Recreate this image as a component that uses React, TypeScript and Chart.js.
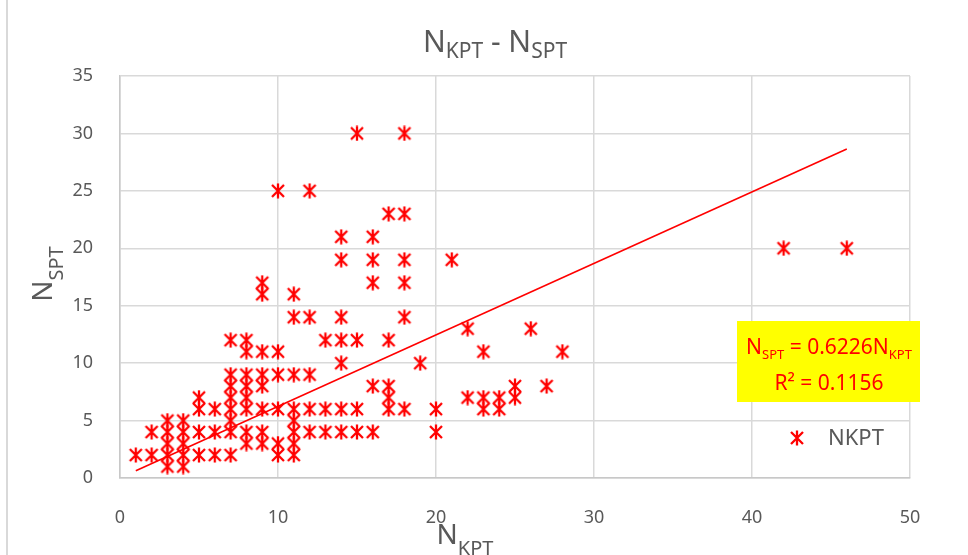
import React, { useEffect, useRef } from 'react';
import { Chart, registerables } from 'chart.js';

Chart.register(...registerables);

// ---- data (N_KPT, N_SPT pairs) ----
const kptValues: number[] = [
  1,
  2, 2,
  3, 3, 3, 3, 3,
  4, 4, 4, 4, 4,
  5, 5, 5, 5,
  6, 6, 6,
  7, 7, 7, 7, 7, 7, 7, 7,
  8, 8, 8, 8, 8, 8, 8, 8,
  9, 9, 9, 9, 9, 9, 9, 9,
  10, 10, 10, 10, 10, 10,
  11, 11, 11, 11, 11, 11, 11, 11,
  12, 12, 12, 12, 12,
  13, 13, 13,
  14, 14, 14, 14, 14, 14, 14,
  15, 15, 15, 15,
  16, 16, 16, 16, 16,
  17, 17, 17, 17, 17,
  18, 18, 18, 18, 18, 18,
  19,
  20, 20,
  21,
  22, 22,
  23, 23, 23,
  24, 24,
  25, 25,
  26,
  27,
  28,
  42,
  46,
];
const sptValues: number[] = [
  2,
  2, 4,
  1, 2, 3, 4, 5,
  1, 2, 3, 4, 5,
  2, 4, 6, 7,
  2, 4, 6,
  2, 4, 5, 6, 7, 8, 9, 12,
  3, 4, 6, 7, 8, 9, 11, 12,
  3, 4, 6, 8, 9, 11, 16, 17,
  2, 3, 6, 9, 11, 25,
  2, 3, 4, 5, 6, 9, 14, 16,
  4, 6, 9, 14, 25,
  4, 6, 12,
  4, 6, 10, 12, 14, 19, 21,
  4, 6, 12, 30,
  4, 8, 17, 19, 21,
  6, 7, 8, 12, 23,
  6, 14, 17, 19, 23, 30,
  10,
  4, 6,
  19,
  7, 13,
  6, 7, 11,
  6, 7,
  7, 8,
  13,
  8,
  11,
  20,
  20,
];
const trendSlope = 0.6226;
const rSquared = '0.1156';
const trendRangeX: number[] = [1, 46];
const seriesName = 'NKPT';

const FONT = '"Noto Sans", sans-serif';
const GRAY = '#595959';
const RED = '#ff0000';
const GRID = '#d9d9d9';

type Part = { t: string; size: number; dy?: number };

function drawRich(
  ctx: CanvasRenderingContext2D,
  parts: Part[],
  px: number,
  py: number,
  color: string,
  angle = 0,
) {
  ctx.save();
  let total = 0;
  const widths = parts.map((p) => {
    ctx.font = `${p.size}px ${FONT}`;
    const w = ctx.measureText(p.t).width;
    total += w;
    return w;
  });
  ctx.translate(px, py);
  ctx.rotate(angle);
  ctx.fillStyle = color;
  ctx.textBaseline = 'alphabetic';
  ctx.textAlign = 'left';
  let x = -total / 2;
  parts.forEach((p, i) => {
    ctx.font = `${p.size}px ${FONT}`;
    ctx.fillText(p.t, x, p.dy || 0);
    x += widths[i];
  });
  ctx.restore();
}

function makeMarker(): HTMLCanvasElement {
  const c = document.createElement('canvas');
  c.width = 16;
  c.height = 16;
  const ctx = c.getContext('2d')!;
  ctx.strokeStyle = RED;
  ctx.lineWidth = 2.3;
  ctx.beginPath();
  ctx.moveTo(2, 2);
  ctx.lineTo(14, 14);
  ctx.moveTo(14, 2);
  ctx.lineTo(2, 14);
  ctx.moveTo(8, 0.5);
  ctx.lineTo(8, 15.5);
  ctx.stroke();
  return c;
}

export default function App() {
  const ref = useRef<HTMLCanvasElement>(null);

  useEffect(() => {
    if (!ref.current) return;
    const marker = makeMarker();
    const points = kptValues.map((x, i) => ({ x, y: sptValues[i] }));
    const trend = trendRangeX.map((x) => ({ x, y: trendSlope * x }));

    const overlay = {
      id: 'overlay',
      afterDraw(chart: any) {
        const ctx: CanvasRenderingContext2D = chart.ctx;
        // outer border (left)
        ctx.save();
        ctx.strokeStyle = GRID;
        ctx.lineWidth = 2;
        ctx.beginPath();
        ctx.moveTo(7, 0);
        ctx.lineTo(7, 555);
        ctx.stroke();
        ctx.restore();

        // title
        drawRich(
          ctx,
          [
            { t: 'N', size: 30 },
            { t: 'KPT', size: 21, dy: 6 },
            { t: ' - ', size: 30 },
            { t: 'N', size: 30 },
            { t: 'SPT', size: 21, dy: 6 },
          ],
          495,
          52,
          GRAY,
        );
        // x axis title
        drawRich(
          ctx,
          [
            { t: 'N', size: 28 },
            { t: 'KPT', size: 20, dy: 11 },
          ],
          465,
          544,
          GRAY,
        );
        // y axis title
        drawRich(
          ctx,
          [
            { t: 'N', size: 28 },
            { t: 'SPT', size: 20, dy: 11 },
          ],
          52,
          274,
          GRAY,
          -Math.PI / 2,
        );

        // equation box
        ctx.save();
        ctx.fillStyle = '#ffff00';
        ctx.fillRect(737, 321, 183, 81);
        ctx.restore();
        drawRich(
          ctx,
          [
            { t: 'N', size: 21 },
            { t: 'SPT', size: 13, dy: 5 },
            { t: ' = ' + trendSlope.toFixed(4) + 'N', size: 21 },
            { t: 'KPT', size: 13, dy: 5 },
          ],
          829,
          354,
          RED,
        );
        drawRich(ctx, [{ t: 'R² = ' + rSquared, size: 21 }], 829, 390, RED);

        // legend
        ctx.drawImage(marker, 797 - 8, 438 - 8);
        ctx.save();
        ctx.font = `22px ${FONT}`;
        ctx.fillStyle = GRAY;
        ctx.textBaseline = 'middle';
        ctx.textAlign = 'left';
        ctx.fillText(seriesName, 828, 439);
        ctx.restore();
      },
    };

    const chart = new Chart(ref.current, {
      type: 'scatter',
      data: {
        datasets: [
          {
            label: 'trend',
            data: trend,
            showLine: true,
            borderColor: RED,
            borderWidth: 1.6,
            pointRadius: 0,
            fill: false,
          } as any,
          {
            label: seriesName,
            data: points,
            pointStyle: marker as any,
            pointRadius: 8,
            borderColor: RED,
            backgroundColor: RED,
            showLine: false,
          },
        ],
      },
      options: {
        animation: false,
        responsive: false,
        layout: { padding: { top: 76, right: 58, bottom: 0, left: 0 } },
        plugins: {
          legend: { display: false },
          tooltip: { enabled: false },
          title: { display: false },
        },
        scales: {
          x: {
            type: 'linear',
            min: 0,
            max: 50,
            ticks: {
              stepSize: 10,
              padding: 29,
              color: GRAY,
              font: { family: FONT, size: 18 },
            },
            grid: { color: GRID, lineWidth: 1.5, drawTicks: false },
            border: { color: '#c8c8c8', width: 1.5 },
            afterFit: (s: any) => {
              s.height = 77;
            },
          },
          y: {
            type: 'linear',
            min: 0,
            max: 35,
            ticks: {
              stepSize: 5,
              padding: 27,
              color: GRAY,
              font: { family: FONT, size: 18 },
            },
            grid: { color: GRID, lineWidth: 1.5, drawTicks: false },
            border: { color: '#c8c8c8', width: 1.5 },
            afterFit: (s: any) => {
              s.width = 120;
            },
          },
        },
      },
      plugins: [overlay],
    });
    return () => chart.destroy();
  }, []);

  return (
    <div style={{ position: 'absolute', left: 0, top: 0, width: 968, height: 555, background: '#fff' }}>
      <canvas ref={ref} width={968} height={555} style={{ display: 'block' }} />
    </div>
  );
}
